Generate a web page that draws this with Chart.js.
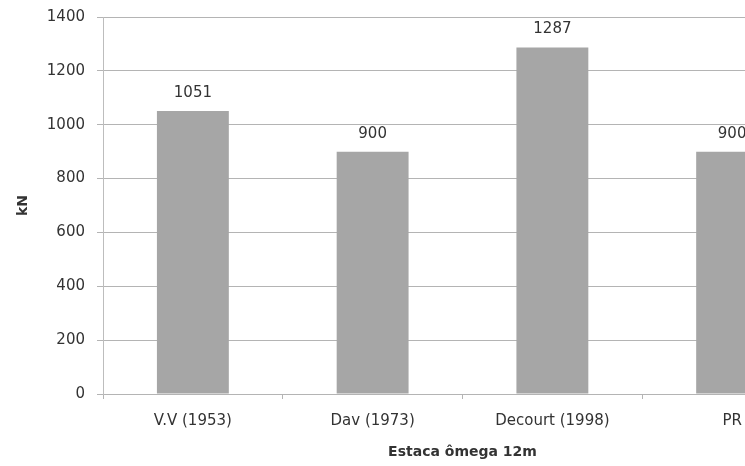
<!DOCTYPE html>
<html>
<head>
<meta charset="utf-8">
<script src="https://cdn.jsdelivr.net/npm/chart.js@4/dist/chart.umd.min.js"></script>
<style>
html, body { margin: 0; padding: 0; overflow: hidden; background: #fff; width: 745px; height: 466px; }
#wrap { width: 822px; height: 466px; }
</style>
</head>
<body>
<div id="wrap"><canvas id="c" width="822" height="466"></canvas></div>
<script>
const categories = ["V.V (1953)", "Dav (1973)", "Decourt (1998)", "PR"];
const values = [1051, 900, 1287, 900];
const yTicks = [0, 200, 400, 600, 800, 1000, 1200, 1400];
const xTitle = "Estaca ômega 12m";
const yTitle = "kN";

const FONT = "'DejaVu Sans', sans-serif";
const TEXT = "#333333";
const GRID = "#b4b4b4";

const labelPlugin = {
  id: 'barLabels',
  afterDatasetsDraw(chart) {
    const ctx = chart.ctx;
    const meta = chart.getDatasetMeta(0);
    ctx.save();
    ctx.font = "15px " + FONT;
    ctx.fillStyle = TEXT;
    ctx.textAlign = 'center';
    ctx.textBaseline = 'middle';
    meta.data.forEach((el, i) => {
      ctx.fillText(String(values[i]), el.x, el.y - 18);
    });
    ctx.restore();
  }
};

new Chart(document.getElementById('c'), {
  type: 'bar',
  data: {
    labels: categories,
    datasets: [{
      data: values,
      backgroundColor: '#a6a6a6',
      borderWidth: 0,
      barPercentage: 0.4,
      categoryPercentage: 1.0
    }]
  },
  options: {
    responsive: false,
    animation: false,
    devicePixelRatio: 1,
    layout: { padding: { top: 17, right: 0, bottom: 0, left: 0 } },
    plugins: { legend: { display: false }, tooltip: { enabled: false } },
    scales: {
      x: {
        afterFit(scale) { scale.height = 72; scale.paddingLeft = 0; scale.paddingRight = 0; },
        grid: { display: true, drawOnChartArea: false, tickLength: 5, color: GRID, offset: true },
        border: { color: GRID, width: 1 },
        ticks: { font: { family: FONT, size: 15 }, color: TEXT, padding: 13, maxRotation: 0, autoSkip: false },
        title: { display: true, text: xTitle, font: { family: FONT, size: 14, weight: 'bold' }, color: TEXT, padding: { top: 0, bottom: 5 } }
      },
      y: {
        min: 0, max: 1400,
        afterFit(scale) { scale.width = 103; scale.paddingTop = 0; scale.paddingBottom = 0; },
        afterBuildTicks(scale) { scale.ticks = yTicks.map(v => ({ value: v })); },
        grid: { color: GRID, tickLength: 6, lineWidth: 1 },
        border: { color: '#bdbdbd', width: 1 },
        ticks: { font: { family: FONT, size: 15 }, color: TEXT, padding: 12, callback: (v) => String(v) },
        title: { display: true, text: yTitle, font: { family: FONT, size: 14, weight: 'bold' }, color: TEXT, padding: { top: 15, bottom: 0 } }
      }
    }
  },
  plugins: [labelPlugin]
});
</script>
</body>
</html>
